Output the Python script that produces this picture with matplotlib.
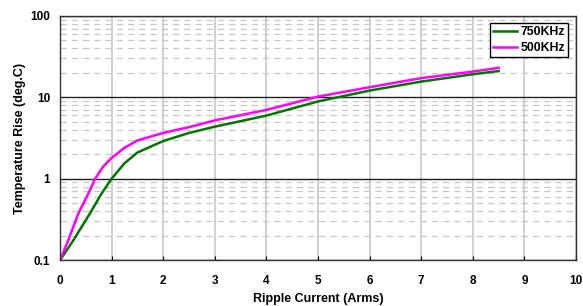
import numpy as np
import matplotlib
matplotlib.use("Agg")
import matplotlib.pyplot as plt
from matplotlib.ticker import LogLocator, FixedLocator, NullFormatter

plt.rcParams['font.family'] = ['Liberation Sans', 'DejaVu Sans']

# ripple current (Arms) and temperature rise (deg.C)
current_750k = [0, 0.26, 0.58, 0.8, 1.0, 1.25, 1.5, 2.0, 2.5, 3.0, 4.0, 5.0, 6.0, 7.0, 8.0, 8.5]
rise_750k = [0.1, 0.176, 0.375, 0.65, 1.0, 1.55, 2.1, 2.9, 3.65, 4.36, 5.96, 8.9, 12.1, 15.6, 19.2, 21.0]

current_500k = [0, 0.16, 0.355, 0.55, 0.68, 0.84, 1.0, 1.25, 1.5, 2.0, 2.5, 3.0, 4.0, 5.0, 6.0, 7.0, 8.0, 8.5]
rise_500k = [0.1, 0.176, 0.375, 0.66, 1.0, 1.42, 1.8, 2.4, 2.95, 3.65, 4.3, 5.2, 7.0, 10.2, 13.3, 17.2, 20.7, 23.0]

fig = plt.figure(figsize=(5.83, 3.06), dpi=100)
ax = fig.add_axes([0.103, 0.150, 0.885, 0.798])

ax.set_yscale('log')
ax.set_xlim(0, 10)
ax.set_ylim(0.1, 100)

# grid
ax.xaxis.set_major_locator(FixedLocator(range(0, 11)))
ax.yaxis.set_major_locator(FixedLocator([0.1, 1, 10, 100]))
ax.yaxis.set_minor_locator(LogLocator(base=10, subs=np.arange(2, 10)))
ax.yaxis.set_minor_formatter(NullFormatter())
ax.grid(True, axis='x', which='major', color='#c8c8c8', lw=1.2)
ax.grid(True, axis='y', which='major', color='#202020', lw=1.0)
ax.grid(True, axis='y', which='minor', color='#c8c8c8', lw=0.9, ls=(0, (5, 4)))
ax.set_axisbelow(True)

ax.plot(current_750k, rise_750k, color='#007800', lw=1.8, label='750KHz')
ax.plot(current_500k, rise_500k, color='#ff00ff', lw=1.8, label='500KHz')

ax.set_yticklabels(['0.1', '1', '10', '100'])
ax.tick_params(axis='x', direction='in', length=3, labelsize=8.5, pad=11)
ax.tick_params(axis='y', which='both', length=0, labelsize=8.5, pad=7)
for lab in ax.get_xticklabels() + ax.get_yticklabels():
    lab.set_fontweight('bold')

for s in ax.spines.values():
    s.set_color('#333333')
    s.set_linewidth(1.0)

ax.set_xlabel('Ripple Current (Arms)', fontsize=9, fontweight='bold', labelpad=4)
ax.set_ylabel('Temperature Rise (deg.C)', fontsize=9, fontweight='bold', labelpad=3)

leg = ax.legend(loc='upper right', prop={'weight': 'bold', 'size': 8.8},
                frameon=True, fancybox=False, edgecolor='black', framealpha=1,
                handlelength=2.0, handletextpad=0.25, borderpad=0.25, labelspacing=0.35,
                borderaxespad=0, bbox_to_anchor=(0.985, 0.972))
leg.get_frame().set_linewidth(1.0)

fig.savefig('out.png', dpi=100)
